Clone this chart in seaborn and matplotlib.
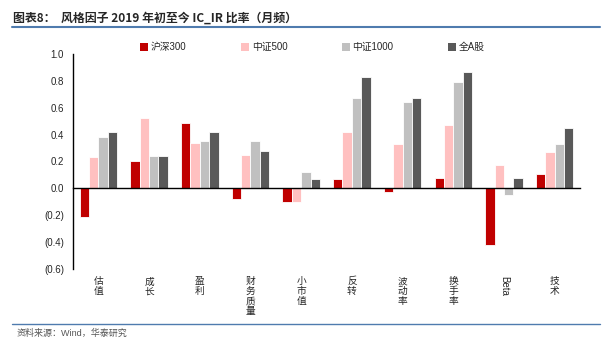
import matplotlib
matplotlib.use("Agg")
import matplotlib.pyplot as plt
import matplotlib.transforms as mtransforms
from matplotlib.patches import Patch
from matplotlib.lines import Line2D
import seaborn as sns
import pandas as pd

# 数据
factors = ["估值", "成长", "盈利", "财务质量", "小市值", "反转", "波动率", "换手率", "Beta", "技术"]
series_names = ["沪深300", "中证500", "中证1000", "全A股"]
hs300 = [-0.21, 0.20, 0.49, -0.08, -0.10, 0.07, -0.03, 0.08, -0.42, 0.11]
zz500 = [0.23, 0.52, 0.34, 0.25, -0.10, 0.42, 0.33, 0.47, 0.17, 0.27]
zz1000 = [0.38, 0.24, 0.35, 0.35, 0.12, 0.67, 0.64, 0.79, -0.05, 0.33]
all_a = [0.42, 0.24, 0.42, 0.28, 0.07, 0.83, 0.67, 0.87, 0.08, 0.45]
colors = ["#C00000", "#FFC0C0", "#C0C0C0", "#595959"]
yticks = [1.0, 0.8, 0.6, 0.4, 0.2, 0.0, -0.2, -0.4, -0.6]

sns.set_style("white")
plt.rcParams["font.family"] = ["Liberation Sans", "Noto Sans CJK SC"]

rows = []
for name, vals in zip(series_names, [hs300, zz500, zz1000, all_a]):
    for f, v in zip(factors, vals):
        rows.append({"因子": f, "指数": name, "IC_IR": v})
df = pd.DataFrame(rows)

fig = plt.figure(figsize=(6.03, 3.51), dpi=100)
ax = fig.add_axes([0.121, 0.234, 0.841, 0.612])

sns.barplot(data=df, x="因子", y="IC_IR", hue="指数", order=factors,
            hue_order=series_names, palette=colors, saturation=1, width=0.74,
            edgecolor="white", linewidth=0.6, legend=False, ax=ax)

ax.set_xlim(-0.5, len(factors) - 0.5)
ax.set_ylim(-0.6, 1.0)
ax.set_yticks(yticks)
ax.set_yticklabels([f"({abs(t):.1f})" if t < 0 else f"{t:.1f}" for t in yticks], fontsize=7)
ax.set_xlabel("")
ax.set_ylabel("")

for s in ["top", "right"]:
    ax.spines[s].set_visible(False)
ax.spines["left"].set_linewidth(1.0)
ax.spines["bottom"].set_position(("data", 0))
ax.spines["bottom"].set_linewidth(1.0)
ax.spines["left"].set_color("black")
ax.spines["bottom"].set_color("black")

ax.set_xticks([i + 0.5 for i in range(len(factors))])
ax.set_xticklabels([])
ax.tick_params(axis="x", direction="out", length=3.5, width=0.8, color="black")
ax.tick_params(axis="y", direction="out", length=3.5, width=0.8, color="black", pad=3)

# 竖排类别标签
trans = mtransforms.blended_transform_factory(ax.transData, ax.transAxes)
for i, f in enumerate(factors):
    if f.isascii():
        ax.text(i, -0.035, f, rotation=270, ha="center", va="top",
                fontsize=7, transform=trans)
    else:
        ax.text(i, -0.035, "\n".join(f), ha="center", va="top", fontsize=7,
                linespacing=1.0, transform=trans)

handles = [Patch(facecolor=c, edgecolor="none") for c in colors]
leg = fig.legend(handles, series_names, loc="center left", bbox_to_anchor=(0.218, 0.865),
                 ncol=4, frameon=False, fontsize=7, handlelength=0.8, handleheight=0.8,
                 handletextpad=0.3, columnspacing=5.6)

# 标题与分隔线
fig.text(0.022, 0.948, "图表8：  风格因子 2019 年初至今 IC_IR 比率（月频）",
         fontsize=8.6, fontweight="bold", ha="left", va="center",
         family=["Noto Sans CJK SC", "Liberation Sans"])
fig.add_artist(Line2D([0.02, 0.995], [0.922, 0.922], color="#4F7BAE", linewidth=1.5))
fig.add_artist(Line2D([0.02, 0.995], [0.077, 0.077], color="#4F7BAE", linewidth=1.0))
fig.text(0.027, 0.05, "资料来源：Wind，华泰研究", fontsize=6.5, color="#555555",
         ha="left", va="center")

fig.savefig("out.png", dpi=100)
